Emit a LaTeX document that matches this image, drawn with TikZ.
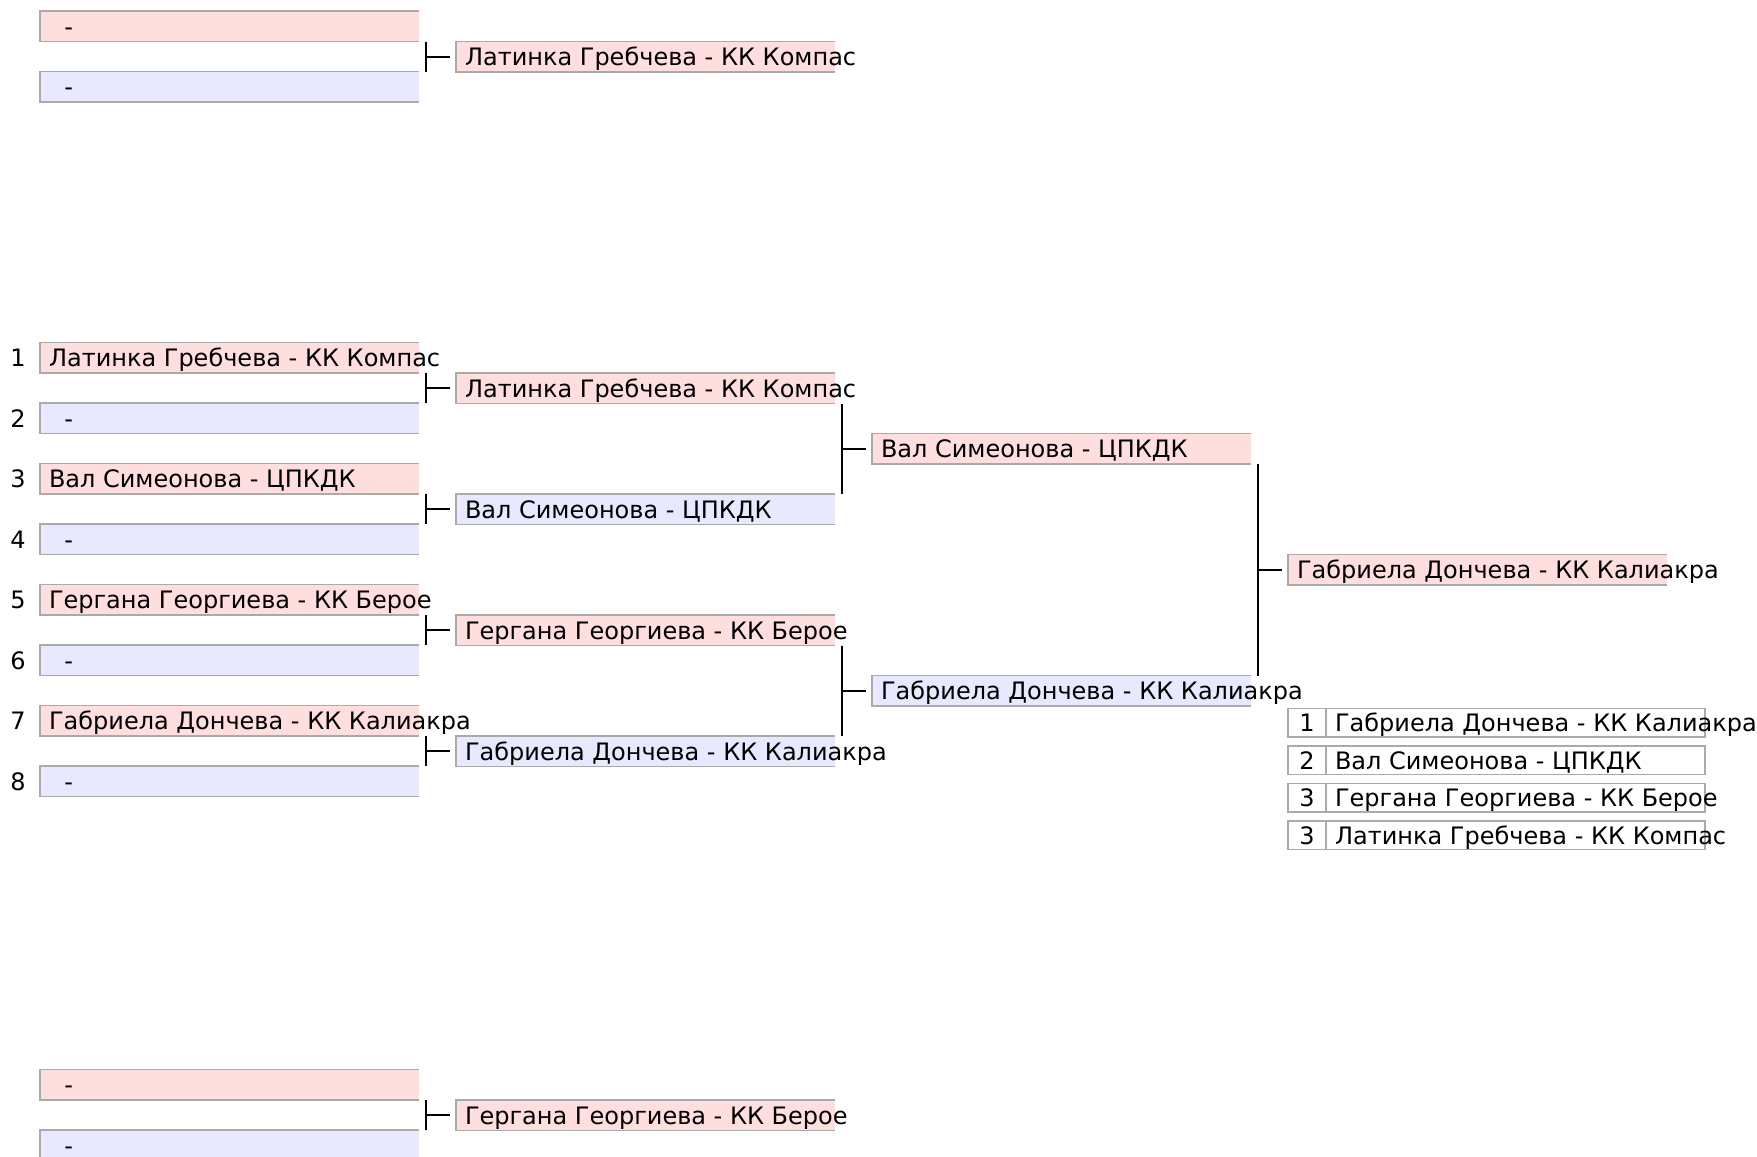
\documentclass[tikz,border=0pt]{standalone}
\usepackage{fontspec}
\setmainfont{DejaVu Sans}
\usetikzlibrary{calc}
\definecolor{pinkfill}{HTML}{FFDEDE}
\definecolor{bluefill}{HTML}{E8E8FF}
\definecolor{bordergray}{HTML}{AAAAAA}
\tikzset{
  box/.style={rectangle, anchor=north west, inner sep=0pt, outer sep=0pt,
    minimum width=189.5pt, minimum height=15.25pt, draw=none},
  pinkb/.style={box, fill=pinkfill},
  blueb/.style={box, fill=bluefill},
  edge/.style={draw=bordergray, line width=0.65pt},
  txt/.style={anchor=base west, inner sep=0pt, outer sep=0pt, font=\fontsize{12}{14}\selectfont},
  seed/.style={anchor=base, inner sep=0pt, outer sep=0pt, font=\fontsize{12}{14}\selectfont},
  conn/.style={draw=black, line width=0.9pt},
  rankcell/.style={rectangle, anchor=north west, inner sep=0pt, outer sep=0pt,
    minimum height=14.25pt, draw=bordergray, line width=0.65pt, fill=white},
}
% name, x, y(top), style, text
\newcommand\bracketbox[5]{%
  \node[#4] (#1) at (#2,#3) {};
  \draw[edge] (#1.north east) -- (#1.north west) -- (#1.south west) -- (#1.south east);
  \node[txt] (#1t) at ([xshift=4.5pt,yshift=-12pt]#1.north west) {#5};
}
% upper box, lower box, winner box
\newcommand\joinpair[3]{%
  \draw[conn] ([xshift=3.5pt]#1.south east) -- ([xshift=3.5pt]#2.north east);
  \draw[conn] ([xshift=3.5pt]#1.south east |- #3.west) -- ([xshift=-3pt]#3.west);
}
% name, y(top), number, text
\newcommand\rankrow[4]{%
  \node[rankcell, minimum width=19pt] (#1n) at (1288,#2) {};
  \node[rankcell, minimum width=189.5pt] (#1m) at (1326,#2) {};
  \node[seed] (#1nt) at ([yshift=-11.5pt]#1n.north) {#3};
  \node[txt] (#1mt) at ([xshift=4.5pt,yshift=-11.5pt]#1m.north west) {#4};
}
\begin{document}
\begin{tikzpicture}[x=0.5pt, y=-0.5pt]
\useasboundingbox (0,0) rectangle (1757,1157);
\fill[white] (0,0) rectangle (1757,1157);

% ---- top section
\bracketbox{ta}{40}{11}{pinkb}{~~-}
\bracketbox{tb}{40}{71.5}{blueb}{~~-}
\bracketbox{tw}{456}{41.5}{pinkb}{Латинка Гребчева - КК Компас}
\joinpair{ta}{tb}{tw}

% ---- main bracket, round 1
\bracketbox{a1}{40}{342.5}{pinkb}{Латинка Гребчева - КК Компас}
\bracketbox{a2}{40}{403}{blueb}{~~-}
\bracketbox{a3}{40}{463.5}{pinkb}{Вал Симеонова - ЦПКДК}
\bracketbox{a4}{40}{524}{blueb}{~~-}
\bracketbox{a5}{40}{584.5}{pinkb}{Гергана Георгиева - КК Берое}
\bracketbox{a6}{40}{645}{blueb}{~~-}
\bracketbox{a7}{40}{705.5}{pinkb}{Габриела Дончева - КК Калиакра}
\bracketbox{a8}{40}{766}{blueb}{~~-}
\foreach \i in {1,...,8} {
  \node[seed] (s\i) at ([xshift=-11pt,yshift=-12pt]a\i.north west) {\i};
}

% round 2
\bracketbox{b1}{456}{373}{pinkb}{Латинка Гребчева - КК Компас}
\bracketbox{b2}{456}{494}{blueb}{Вал Симеонова - ЦПКДК}
\bracketbox{b3}{456}{615}{pinkb}{Гергана Георгиева - КК Берое}
\bracketbox{b4}{456}{736}{blueb}{Габриела Дончева - КК Калиакра}
\joinpair{a1}{a2}{b1}
\joinpair{a3}{a4}{b2}
\joinpair{a5}{a6}{b3}
\joinpair{a7}{a8}{b4}

% round 3
\bracketbox{c1}{872}{433.5}{pinkb}{Вал Симеонова - ЦПКДК}
\bracketbox{c2}{872}{675.5}{blueb}{Габриела Дончева - КК Калиакра}
\joinpair{b1}{b2}{c1}
\joinpair{b3}{b4}{c2}

% final
\bracketbox{d1}{1288}{554.5}{pinkb}{Габриела Дончева - КК Калиакра}
\joinpair{c1}{c2}{d1}

% ranking
\rankrow{r1}{708.5}{1}{Габриела Дончева - КК Калиакра}
\rankrow{r2}{746}{2}{Вал Симеонова - ЦПКДК}
\rankrow{r3}{783.5}{3}{Гергана Георгиева - КК Берое}
\rankrow{r4}{821}{3}{Латинка Гребчева - КК Компас}

% ---- bottom section
\bracketbox{ua}{40}{1069.5}{pinkb}{~~-}
\bracketbox{ub}{40}{1130}{blueb}{~~-}
\bracketbox{uw}{456}{1100}{pinkb}{Гергана Георгиева - КК Берое}
\joinpair{ua}{ub}{uw}
\end{tikzpicture}
\end{document}
